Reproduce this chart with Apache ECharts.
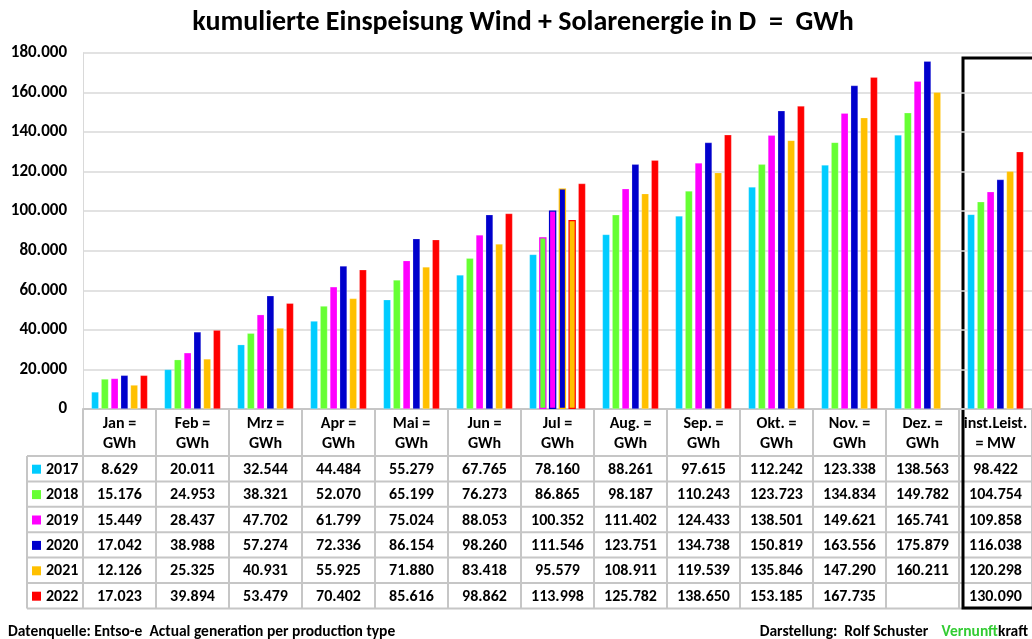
<!DOCTYPE html>
<html>
<head>
<meta charset="utf-8">
<script src="https://cdn.jsdelivr.net/npm/echarts@6/dist/echarts.min.js"></script>
<style>
  html, body { margin: 0; padding: 0; background: #fff; }
  #main { width: 1032px; height: 639px; }
</style>
</head>
<body>
<div id="main"></div>
<script>
// Kategorien + Kopfzeile der Tabelle
const categories = ['Jan', 'Feb', 'Mrz', 'Apr', 'Mai', 'Jun', 'Jul', 'Aug.', 'Sep.', 'Okt.', 'Nov.', 'Dez.', 'inst.Leist.'];
const headerLabels = ['Jan =\nGWh', 'Feb =\nGWh', 'Mrz =\nGWh', 'Apr =\nGWh', 'Mai =\nGWh', 'Jun =\nGWh', 'Jul =\nGWh',
  'Aug. =\nGWh', 'Sep. =\nGWh', 'Okt. =\nGWh', 'Nov. =\nGWh', 'Dez. =\nGWh', 'inst.Leist.\n= MW'];
const years = ['2017', '2018', '2019', '2020', '2021', '2022'];
const colors = ['#00CCFF', '#66FF33', '#FF00FF', '#0000CC', '#FFC000', '#FF0000'];

// kumulierte Werte GWh (letzte Spalte: installierte Leistung MW)
const v2017 = [8629, 20011, 32544, 44484, 55279, 67765, 78160, 88261, 97615, 112242, 123338, 138563, 98422];
const v2018 = [15176, 24953, 38321, 52070, 65199, 76273, 86865, 98187, 110243, 123723, 134834, 149782, 104754];
const v2019 = [15449, 28437, 47702, 61799, 75024, 88053, 100352, 111402, 124433, 138501, 149621, 165741, 109858];
const v2020 = [17042, 38988, 57274, 72336, 86154, 98260, 111546, 123751, 134738, 150819, 163556, 175879, 116038];
const v2021 = [12126, 25325, 40931, 55925, 71880, 83418, 95579, 108911, 119539, 135846, 147290, 160211, 120298];
const v2022 = [17023, 39894, 53479, 70402, 85616, 98862, 113998, 125782, 138650, 153185, 167735, null, 130090];
const allValues = [v2017, v2018, v2019, v2020, v2021, v2022];

const yTicks = [0, 20000, 40000, 60000, 80000, 100000, 120000, 140000, 160000, 180000];

const FONT = 'Carlito, Lato, "Open Sans", sans-serif';
const gridLeft = 83, gridTop = 53, axisY = 409;
const colW = (1032 - gridLeft) / categories.length;
const rowTop = 456, rowH = 25.4, tableLeft = 27;
const lineCol = '#c6c6c6';

function fmt(v) {
  if (v == null) return '';
  return String(v).replace(/\B(?=(\d{3})+(?!\d))/g, '.');
}

const chart = echarts.init(document.getElementById('main'));

const series = years.map((y, i) => ({
  name: y,
  type: 'bar',
  barWidth: 7.4,
  barGap: '32%',
  itemStyle: { color: colors[i], borderColor: 'rgba(255,255,255,0.35)', borderWidth: 0.6 },
  data: allValues[i].map((v, k) => {
    // im Juli haben die Balken im Original farbige Ränder
    if (k === 6 && i >= 1 && i <= 4) {
      return { value: v, itemStyle: { borderColor: colors[i + 1], borderWidth: 1.2 } };
    }
    return v;
  })
}));

// Tabelle unter dem Diagramm
const graphics = [];
graphics.push({
  type: 'text',
  style: { text: 'kumulierte Einspeisung Wind + Solarenergie in D  =  GWh', x: 523, y: 23,
    align: 'center', verticalAlign: 'middle', fontSize: 28, fontWeight: 'bold', fontFamily: FONT, fill: '#000' }
});
for (let r = 0; r <= years.length; r++) {
  graphics.push({
    type: 'line', silent: true,
    shape: { x1: tableLeft, y1: rowTop + r * rowH, x2: 1032, y2: rowTop + r * rowH },
    style: { stroke: lineCol, lineWidth: 2 }
  });
}
const vx = [tableLeft];
for (let c = 0; c <= categories.length; c++) vx.push(gridLeft + c * colW);
vx.forEach(x => {
  graphics.push({
    type: 'line', silent: true,
    shape: { x1: x, y1: rowTop, x2: x, y2: rowTop + years.length * rowH },
    style: { stroke: lineCol, lineWidth: 2 }
  });
});
years.forEach((y, r) => {
  const cy = rowTop + r * rowH + rowH / 2 + 1;
  graphics.push({
    type: 'rect', silent: true,
    shape: { x: 32, y: cy - 5, width: 9, height: 9 },
    style: { fill: colors[r] }
  });
  graphics.push({
    type: 'text', silent: true,
    style: { text: y, x: 46, y: cy, align: 'left', verticalAlign: 'middle',
      fontSize: 16, fontWeight: 'bold', fontFamily: FONT, fill: '#000' }
  });
  allValues[r].forEach((v, c) => {
    graphics.push({
      type: 'text', silent: true,
      style: { text: fmt(v), x: gridLeft + c * colW + colW / 2, y: cy, align: 'center', verticalAlign: 'middle',
        fontSize: 16, fontWeight: 'bold', fontFamily: FONT, fill: '#000' }
    });
  });
});
// schwarzer Rahmen um inst. Leistung
graphics.push({
  type: 'rect', silent: true,
  shape: { x: 963, y: 58, width: 90, height: 550 },
  style: { fill: 'none', stroke: '#000', lineWidth: 3 }
});
graphics.push({
  type: 'text', silent: true,
  style: { text: 'Datenquelle: Entso-e  Actual generation per production type', x: 8, y: 632,
    align: 'left', verticalAlign: 'middle', fontSize: 15.5, fontWeight: 'bold', fontFamily: FONT, fill: '#000' }
});
graphics.push({
  type: 'text', silent: true,
  style: {
    text: '{a|Darstellung:  Rolf Schuster}    {g|Vernunft}{a|kraft}', x: 1028, y: 632,
    align: 'right', verticalAlign: 'middle',
    rich: {
      a: { fontSize: 15.5, fontWeight: 'bold', fontFamily: FONT, fill: '#000' },
      g: { fontSize: 15.5, fontWeight: 'bold', fontFamily: FONT, fill: '#33CC33' }
    }
  }
});

chart.setOption({
  animation: false,
  grid: { left: gridLeft, right: 0, top: gridTop, bottom: 639 - axisY, containLabel: false },
  xAxis: {
    type: 'category',
    data: categories,
    axisLine: { show: true, lineStyle: { color: lineCol, width: 2 } },
    axisTick: { show: true, length: rowTop - axisY, lineStyle: { color: lineCol, width: 2 } },
    axisLabel: {
      interval: 0, margin: 5, fontSize: 16, fontWeight: 'bold', fontFamily: FONT, color: '#000', lineHeight: 20,
      formatter: (v, i) => headerLabels[i]
    }
  },
  yAxis: {
    type: 'value',
    min: yTicks[0],
    max: yTicks[yTicks.length - 1],
    interval: yTicks[1] - yTicks[0],
    axisLine: { show: true, lineStyle: { color: '#d9d9d9', width: 1 } },
    splitLine: { lineStyle: { color: '#d9d9d9', width: 1.5 } },
    axisLabel: { margin: 16, fontSize: 17, fontWeight: 'bold', fontFamily: FONT, color: '#000', formatter: fmt }
  },
  series: series,
  graphic: graphics
});
</script>
</body>
</html>
